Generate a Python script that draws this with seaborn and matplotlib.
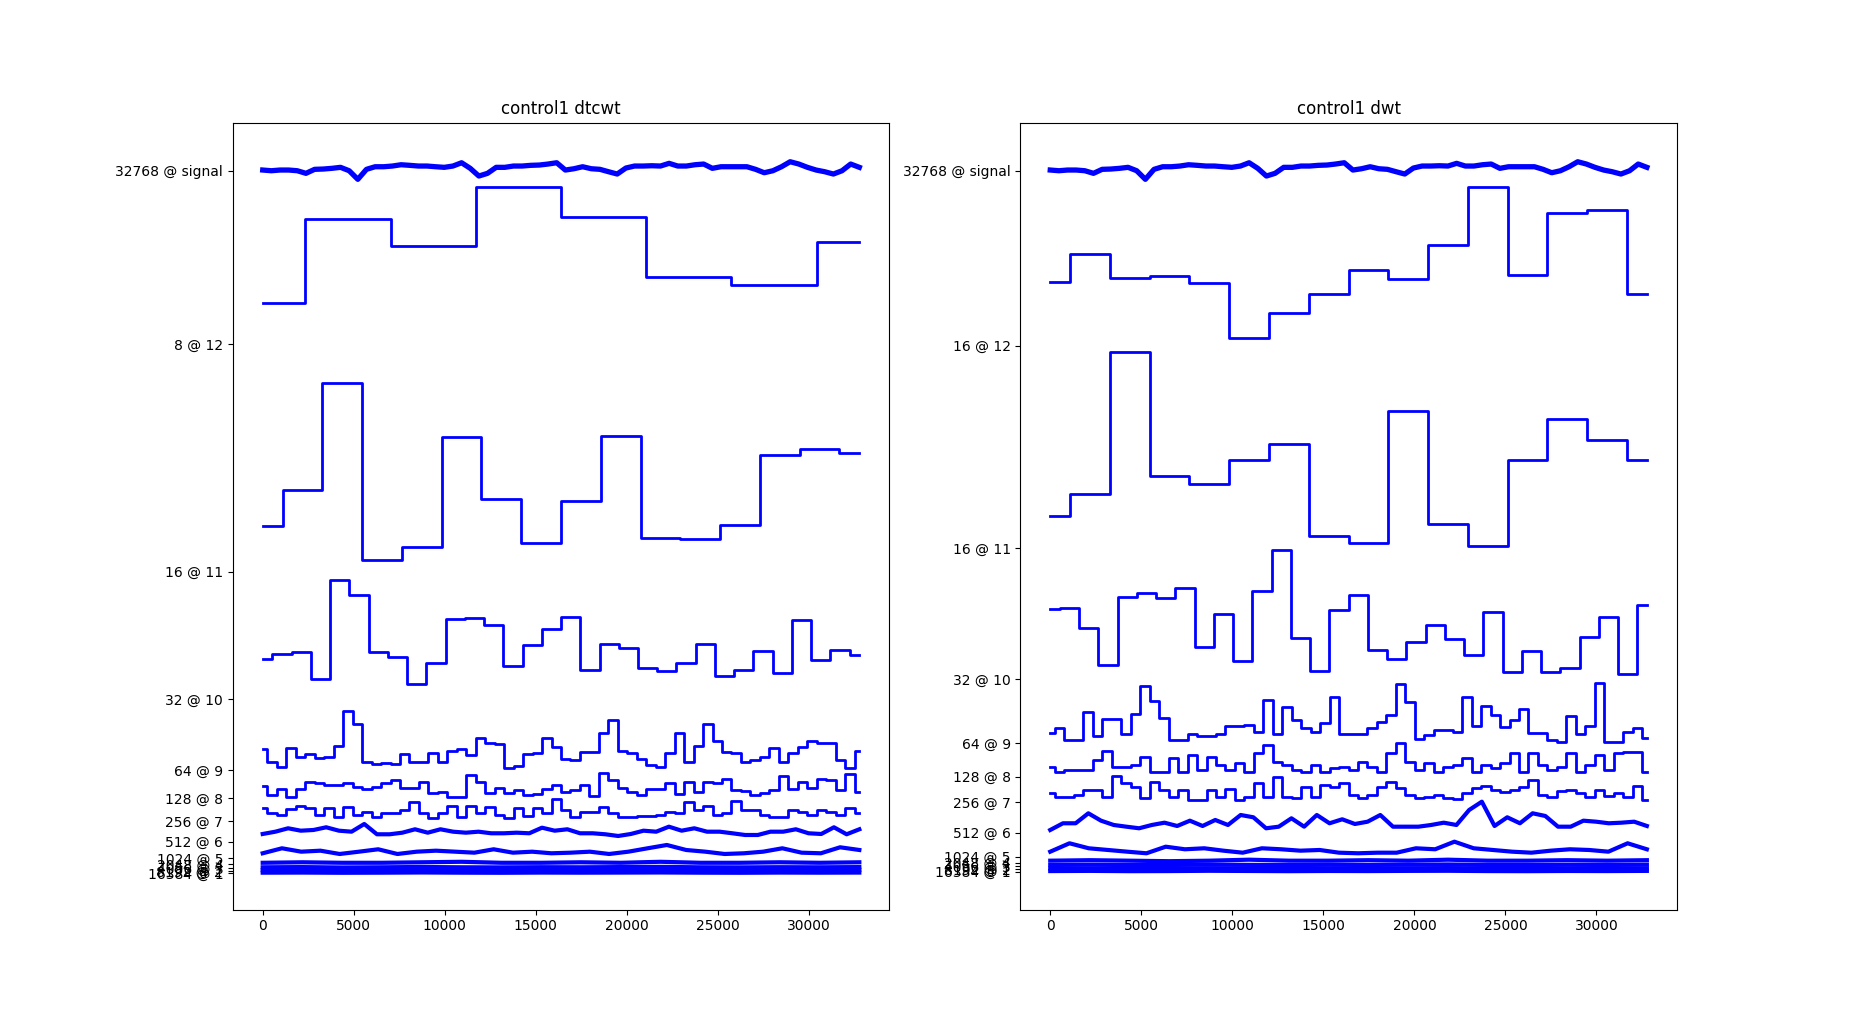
import numpy as np
import matplotlib
matplotlib.use("Agg")
import matplotlib.pyplot as plt
import seaborn as sns

# raw signal (coarse trace), relative to its row
signal = [0.7, 0, 0.7, 0.7, 0, -2.6, 1.4, 1.7, 2.4, 3.4, 0, -8.6, 1.4, 4, 4, 4.7, 6, 5.4, 4.7, 4.7,
          4, 3.4, 4.7, 8, 2.4, -5.3, -2.6, 3.4, 3.4, 4.7, 4.7, 5.4, 5.7, 6.7, 8, 0.7, 2, 4, 2, 1.4,
          -1, -3.3, 2.7, 4.7, 4.7, 5, 4.7, 7.4, 4.7, 4.7, 6, 6.7, 2.4, 4, 4, 4, 4, 1.4, -2, 0,
          4, 9, 6.7, 3.4, 0.7, -1, -3.3, 0, 6.7, 3.4]

# row baselines (tick positions) and tick labels
dtcwt_offsets = [739.3, 566, 338.3, 210.7, 140, 111.7, 89, 68.3, 51.7, 45.7, 41.7, 39, 36.7]
dwt_offsets = [739.3, 564.3, 361.7, 231, 166.7, 133.3, 107.7, 77.3, 53.3, 47.3, 44, 40.7, 38.3]
dtcwt_labels = ["32768 @ signal", "8 @ 12", "16 @ 11", "32 @ 10", "64 @ 9", "128 @ 8", "256 @ 7",
                "512 @ 6", "1024 @ 5", "2048 @ 4", "4096 @ 3", "8192 @ 2", "16384 @ 1"]
dwt_labels = ["32768 @ signal", "16 @ 12", "16 @ 11", "32 @ 10", "64 @ 9", "128 @ 8", "256 @ 7",
              "512 @ 6", "1024 @ 5", "2048 @ 4", "4096 @ 3", "8192 @ 2", "16384 @ 1"]

# dtcwt coefficient magnitudes, level 12 down to level 1
dtcwt_l12 = [41, 125, 98, 157, 127, 67, 59, 102]
dtcwt_l11 = [46, 82, 189, 12, 25, 135, 73, 29, 71, 136, 34, 33, 47, 117, 123, 119]
dtcwt_l10 = [40, 45, 47, 20, 119, 104, 47, 42, 15, 36, 80, 81, 74, 33, 54, 70,
             82, 29, 55, 51, 31, 28, 36, 55, 23, 29, 48, 26, 79, 39, 49, 44]
dtcwt_l9 = [21, 8, 3, 22, 13, 16, 12, 13, 24, 59, 46, 8, 6, 7, 6, 16, 8, 8, 17, 8, 19, 21, 15, 32,
            27, 26, 2, 4, 16, 17, 32, 23, 11, 10, 18, 18, 37, 50, 19, 17, 11, 5, 3, 17, 37, 8, 24, 46,
            29, 18, 17, 8, 10, 13, 22, 8, 17, 23, 29, 27, 27, 10, 2, 19]
dtcwt_l8 = [12.6, 3.3, 9, 1.6, 9, 16.6, 15, 13.3, 13.3, 15.6, 11, 9, 11, 15, 18.3, 10, 10, 16.6, 5, 6.6,
            1.6, 1.6, 23.3, 16.6, 5, 10, 5.6, 8.3, 3.3, 4, 9, 13.3, 6.6, 8.3, 13.3, 2.3, 25.6, 18.3,
            10, 6.6, 3.3, 9, 9, 15, 4, 16.6, 6.6, 16.6, 15.6, 19, 8.3, 7.6, 3.3, 5, 8.3, 22.3, 9,
            16.6, 10, 19, 18.3, 8.3, 24.3, 6.6]
dtcwt_l7 = [12.7, 7.7, 6, 11.7, 15, 12.7, 6, 12.7, 4.3, 13.7, 6, 9.3, 4.3, 7.7, 7.7, 11, 19.3, 7.7,
            2.7, 7.7, 15, 4.3, 15, 7.7, 14.3, 6, 2.7, 12.7, 5, 12.7, 7.7, 22.3, 11, 3.7, 9.3, 9.3,
            14.3, 7.7, 4.3, 4.3, 5, 5, 6, 9.3, 7.7, 19.3, 11, 15, 6, 7.7, 20.3, 11, 11, 6, 4.3, 4.3,
            11, 9.3, 6, 11, 9.3, 6, 12.7, 7.7]
dtcwt_l6 = [7.7, 10, 13.4, 11, 11.7, 14.4, 11, 10, 17.7, 7.4, 7.4, 9, 12.4, 9, 12.4, 10, 9, 10, 8.4,
            8.4, 9, 8.4, 14, 11, 12.4, 8.4, 8.4, 7.4, 5.7, 7.7, 11, 10, 15, 11, 13.4, 10, 10, 8.4,
            6.7, 6.7, 10, 10, 12.4, 8.4, 7.7, 14.4, 7.4, 12.4]
dtcwt_l5 = [5, 10, 6.6, 7.6, 4.3, 6.6, 9, 4.3, 6.6, 7.6, 6.6, 5.6, 9, 5.6, 6.6, 5, 5.6, 6.6, 4.3,
            6.6, 10, 13.3, 8.3, 6.6, 4.3, 5, 6.6, 10, 5.6, 5, 11, 8.3]
dtcwt_l4 = [1.5, 2, 1.5, 1.5, 2, 2.5, 1.5, 1.5, 2, 1.5, 2.5, 1.5, 1.5, 2, 1.5, 2]
dtcwt_l3 = [1, 1.2, 0.8, 1, 1.3, 1, 0.9, 1.1, 1, 1.2, 1.4, 1, 0.9, 1.1, 1, 1.2]
dtcwt_l2 = [0.8, 0.9, 0.7, 0.8, 1, 0.8, 0.7, 0.9, 0.8, 0.9, 1.1, 0.8, 0.7, 0.9, 0.8, 1]
dtcwt_l1 = [0.6, 0.7, 0.5, 0.6, 0.8, 0.6, 0.5, 0.7, 0.6, 0.7, 0.8, 0.6, 0.5, 0.7, 0.6, 0.7]

# dwt coefficient magnitudes, level 12 down to level 1
dwt_l12 = [64, 91.7, 68, 69.7, 62.4, 8, 33, 52, 75.7, 67, 101, 158.7, 71, 133, 136, 52]
dwt_l11 = [32.6, 54.6, 196.3, 72.6, 64.6, 88.6, 104.6, 12, 5.6, 137.6, 24.6, 2, 88.6, 129.6, 108.6, 88.6]
dwt_l10 = [70, 71.3, 51.3, 14.3, 82.3, 86.3, 81.3, 91.3, 31.7, 65.3, 18.3, 88.3, 129.3, 40.7, 8.3, 69.3,
           84.3, 29.3, 20.3, 37.3, 54.3, 40.3, 24.3, 67.3, 7.3, 28.3, 7.3, 11.3, 41.7, 62.3, 5.3, 74.3]
dwt_l9 = [10, 15.6, 3.3, 3.3, 31.6, 7.3, 24, 24, 9, 29.3, 57.6, 42.6, 25, 3.3, 3.3, 9, 7.3, 7.3, 9,
          17.3, 17.3, 18.3, 11.6, 43.3, 9, 36.6, 23.3, 15, 11.6, 20.6, 46.6, 9, 9, 9, 15, 21.6, 28.3,
          59, 41.6, 4.3, 8.3, 13.3, 13.3, 11.6, 46.6, 17.3, 37.3, 28.3, 16.6, 23.3, 34, 10, 10, 3.3,
          1.6, 27.3, 9, 17.3, 60.6, 1.6, 1.6, 11.6, 15, 5.6]
dwt_l8 = [10, 5, 6.7, 6.7, 6.7, 16.7, 26, 10, 10, 11.7, 20, 5, 5, 18.4, 5, 21.7, 6.7, 20, 11.7, 6.7,
          13.4, 5, 23.4, 31.7, 15, 11.7, 6.7, 5, 11.7, 5, 8.4, 10, 6.7, 15, 10, 5, 23.4, 33.4, 15,
          6.7, 13.4, 5, 10, 11.7, 18.4, 5, 11.7, 8.4, 13.4, 23.4, 5, 23.4, 11.7, 6.7, 10, 23.4, 5,
          11.7, 21.7, 6.7, 23.4, 25, 25, 5]
dwt_l7 = [9, 5.6, 5.6, 7.3, 12.3, 12.3, 5.6, 26.3, 19, 15, 4, 20.6, 12.3, 5.6, 12.3, 2.3, 2.3, 12.3,
          5.6, 13, 2.3, 5.6, 19.6, 5.6, 25.6, 5.6, 4, 15.6, 5.6, 17.3, 15.6, 19, 7.3, 4, 7.3, 15,
          20.6, 14, 7.3, 4, 5.6, 7.3, 4, 3, 9, 14, 16.3, 12.3, 10.6, 12.3, 15.6, 22.3, 7.3, 5.6,
          11.6, 12.3, 9.6, 5.6, 12.3, 6.3, 9, 5.6, 16.3, 2.3]
dwt_l6 = [2.7, 9.4, 9.4, 19.4, 12, 7.7, 6, 4.4, 7.7, 10, 6.7, 12, 6.7, 12.7, 7.7, 17.7, 15.4, 4.4,
          6, 14.4, 6, 17.7, 9.4, 13.4, 8.7, 11, 17.7, 6, 6, 6, 7.7, 10, 7.7, 22.7, 31, 6.7, 15.4,
          9.4, 19.4, 16.7, 6, 6, 12, 11, 9.4, 10, 11, 6.7]
dwt_l5 = [5, 13.4, 8.4, 6.7, 5, 3.4, 10, 7.4, 8.4, 6, 4, 8.4, 7.4, 6, 6.7, 4, 3.4, 4, 4, 8.4, 7.4,
          15, 8.4, 6.7, 5, 4, 6, 7.4, 6.7, 5, 13.4, 7.4]
dwt_l4 = [2, 2.5, 2, 1.5, 2, 3, 2, 2, 2.5, 2, 3, 2, 2, 2.5, 2, 2.5]
dwt_l3 = [1, 1.3, 0.9, 1, 1.4, 1.1, 0.9, 1.2, 1, 1.3, 1.5, 1, 0.9, 1.2, 1, 1.3]
dwt_l2 = [0.8, 1, 0.7, 0.8, 1.1, 0.9, 0.7, 0.9, 0.8, 1, 1.2, 0.8, 0.7, 0.9, 0.8, 1]
dwt_l1 = [0.6, 0.8, 0.5, 0.6, 0.9, 0.7, 0.5, 0.7, 0.6, 0.8, 0.9, 0.6, 0.5, 0.7, 0.6, 0.8]

N_SAMPLES = 32768

panels = [
    ("control1 dtcwt", dtcwt_offsets, dtcwt_labels,
     [dtcwt_l12, dtcwt_l11, dtcwt_l10, dtcwt_l9, dtcwt_l8, dtcwt_l7,
      dtcwt_l6, dtcwt_l5, dtcwt_l4, dtcwt_l3, dtcwt_l2, dtcwt_l1]),
    ("control1 dwt", dwt_offsets, dwt_labels,
     [dwt_l12, dwt_l11, dwt_l10, dwt_l9, dwt_l8, dwt_l7,
      dwt_l6, dwt_l5, dwt_l4, dwt_l3, dwt_l2, dwt_l1]),
]


def plot_panel(ax, title, offsets, labels, levels):
    # signal row on top
    xs = np.linspace(0, N_SAMPLES, len(signal))
    sns.lineplot(x=xs, y=np.array(signal) + offsets[0], color="blue", lw=3.8, ax=ax)

    # one row per decomposition level, coefficients held across their span
    for i, vals in enumerate(levels):
        xs = np.linspace(0, N_SAMPLES, len(vals))
        ys = np.array(vals) + offsets[i + 1]
        if i < 6:
            sns.lineplot(x=xs, y=ys, color="blue", lw=2, drawstyle="steps-mid", ax=ax)
        else:
            sns.lineplot(x=xs, y=ys, color="blue", lw=3, ax=ax)

    ax.set_yticks(offsets)
    ax.set_yticklabels(labels)
    ax.set_ylim(0.4, 787.4)
    ax.set_title(title)


fig, axes = plt.subplots(1, 2, figsize=(18.63, 10.22), dpi=100)
for ax, (title, offsets, labels, levels) in zip(axes, panels):
    plot_panel(ax, title, offsets, labels, levels)

plt.savefig("out.png")
plt.close()
